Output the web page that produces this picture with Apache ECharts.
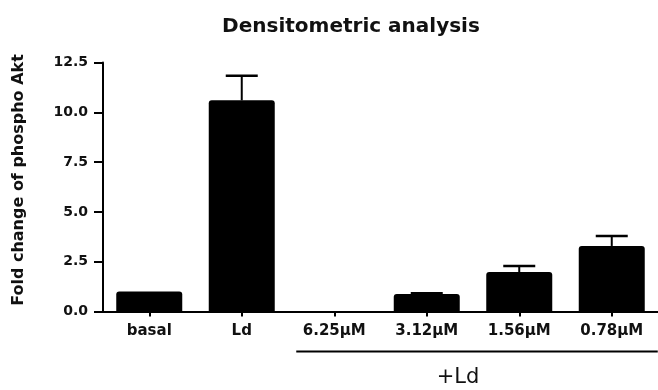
<!DOCTYPE html>
<html><head><meta charset="utf-8">
<script src="https://cdn.jsdelivr.net/npm/echarts@6/dist/echarts.min.js"></script>
<style>html,body{margin:0;padding:0;background:#fff}#c{width:658px;height:390px}</style>
</head><body><div id="c"></div>
<script>
const categories = ['basal', 'Ld', '6.25μM', '3.12μM', '1.56μM', '0.78μM'];
const means = [1.0, 10.6, 0.0, 0.88, 1.98, 3.29];
const upperErr = [1.0, 11.84, 0.0, 0.92, 2.28, 3.79];
const yTicks = [0, 2.5, 5, 7.5, 10, 12.5];

const chart = echarts.init(document.getElementById('c'), null, {renderer: 'canvas'});
const FONT = '"DejaVu Sans", sans-serif';

const option = {
  animation: false,
  backgroundColor: '#fff',
  title: {
    text: 'Densitometric analysis', left: 346, top: 12, textAlign: 'center',
    textStyle: {fontFamily: FONT, fontWeight: 'bold', fontSize: 20, color: '#111'}
  },
  grid: {left: 103, top: 62.5, width: 558, height: 249},
  xAxis: {
    type: 'category', data: categories,
    axisLine: {lineStyle: {color: '#000', width: 2}},
    axisTick: {show: true, alignWithLabel: true, length: 5, lineStyle: {color: '#000', width: 2}},
    axisLabel: {fontFamily: FONT, fontWeight: 'bold', fontSize: 15, color: '#111', margin: 12}
  },
  yAxis: {
    type: 'value', min: 0, max: 12.5, interval: 2.5,
    name: 'Fold change of phospho Akt', nameLocation: 'middle', nameGap: 76,
    nameTextStyle: {fontFamily: FONT, fontWeight: 'bold', fontSize: 16, color: '#111', padding: [0, 0, 0, 14]},
    axisLine: {show: true, lineStyle: {color: '#000', width: 2}},
    axisTick: {show: true, length: 9, lineStyle: {color: '#000', width: 2}},
    splitLine: {show: false},
    axisLabel: {fontFamily: FONT, fontWeight: 'bold', fontSize: 14, color: '#111', margin: 15,
      formatter: v => v.toFixed(1)}
  },
  series: [
    {
      type: 'bar', data: means, barWidth: 66,
      itemStyle: {color: '#000', borderRadius: [3, 3, 0, 0]}, z: 2
    },
    {
      type: 'custom', z: 3,
      data: categories.map((c, i) => [i, means[i], upperErr[i]]),
      renderItem: function (params, api) {
        const i = api.value(0);
        const top = api.coord([i, api.value(2)]);
        const base = api.coord([i, api.value(1)]);
        if (api.value(2) - api.value(1) < 0.02) return null;
        const hw = 16;
        return {type: 'group', children: [
          {type: 'line', shape: {x1: top[0], y1: base[1], x2: top[0], y2: top[1]}, style: {stroke: '#000', lineWidth: 2}},
          {type: 'line', shape: {x1: top[0] - hw, y1: top[1], x2: top[0] + hw, y2: top[1]}, style: {stroke: '#000', lineWidth: 2.5}}
        ]};
      }
    }
  ]
};
chart.setOption(option);

// "+Ld" bracket under the four treated categories
const p0 = chart.convertToPixel({xAxisIndex: 0}, categories[2]);
const p1 = chart.convertToPixel({xAxisIndex: 0}, categories[5]);
const gridBottom = chart.convertToPixel({yAxisIndex: 0}, 0);
const lineY = gridBottom + 40;
chart.setOption({
  graphic: [
    {type: 'line', shape: {x1: p0 - 38, y1: lineY, x2: p1 + 46, y2: lineY}, style: {stroke: '#000', lineWidth: 2}},
    {type: 'text', x: (p0 + p1) / 2 - 15, y: lineY + 26,
      style: {text: '+Ld', fontFamily: FONT, fontSize: 21, fill: '#111', textAlign: 'center', textVerticalAlign: 'middle'}}
  ]
});
</script></body></html>
